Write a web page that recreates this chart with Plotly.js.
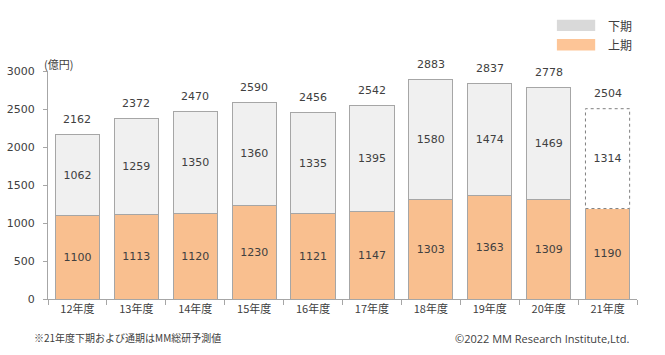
<!DOCTYPE html>
<html><head><meta charset="utf-8">
<script src="https://cdn.plot.ly/plotly-3.0.1.min.js"></script>
<style>html,body{margin:0;padding:0;background:#fff}#c{width:665px;height:355px}</style>
</head><body><div id="c"></div>
<script>
const categories = ['12年度','13年度','14年度','15年度','16年度','17年度','18年度','19年度','20年度','21年度'];
const firstHalf = [1100,1113,1120,1230,1121,1147,1303,1363,1309,1190];
const secondHalf = [1062,1259,1350,1360,1335,1395,1580,1474,1469,1314];
const totals = [2162,2372,2470,2590,2456,2542,2883,2837,2778,2504];
const forecastIndex = 9;

const FONT = '"DejaVu Sans", "Noto Sans CJK JP", sans-serif';
const JFONT = '"Noto Sans CJK JP", "DejaVu Sans", sans-serif';
const txt = '#404040';
const barW = 0.75;

const lowerTrace = {
  type:'bar', x:categories, y:firstHalf, name:'上期',
  width:barW,
  marker:{color:'#F9BF8F', line:{color:'#A6A6A6', width:1}},
  text:firstHalf.map(String), textposition:'inside', insidetextanchor:'middle',
  textfont:{family:FONT, size:11, color:txt}, hoverinfo:'skip', showlegend:false
};
const upperTrace = {
  type:'bar', x:categories, y:secondHalf, name:'下期',
  width:barW,
  marker:{color:secondHalf.map((v,i)=> i===forecastIndex ? '#FFFFFF' : '#F0F0F0'),
          line:{color:secondHalf.map((v,i)=> i===forecastIndex ? 'rgba(0,0,0,0)' : '#A6A6A6'), width:1}},
  text:secondHalf.map(String), textposition:'inside', insidetextanchor:'middle',
  textfont:{family:FONT, size:11, color:txt}, hoverinfo:'skip', showlegend:false
};

const shapes = [
  {type:'rect', xref:'x', yref:'y',
   x0:forecastIndex - barW/2, x1:forecastIndex + barW/2,
   y0:firstHalf[forecastIndex], y1:firstHalf[forecastIndex] + secondHalf[forecastIndex],
   line:{color:'#7F7F7F', width:1, dash:'dot'}, fillcolor:'rgba(0,0,0,0)'},
  {type:'rect', xref:'paper', yref:'paper', x0:0.864, x1:0.929, y0:1.175, y1:1.225,
   fillcolor:'#D9D9D9', line:{width:0}},
  {type:'rect', xref:'paper', yref:'paper', x0:0.864, x1:0.929, y0:1.09, y1:1.14,
   fillcolor:'#FDC597', line:{width:0}}
];

const totalAnnotations = categories.map((c,i)=>({
  xref:'x', yref:'y', x:c, y:totals[i], text:String(totals[i]), showarrow:false,
  yanchor:'middle', yshift:15, font:{family:FONT, size:11, color:txt}
}));

const annotations = totalAnnotations.concat([
  {xref:'paper', yref:'paper', x:0.947, y:1.2, text:'下期', showarrow:false, xanchor:'left', yanchor:'middle',
   font:{family:JFONT, size:12, color:txt}},
  {xref:'paper', yref:'paper', x:0.947, y:1.115, text:'上期', showarrow:false, xanchor:'left', yanchor:'middle',
   font:{family:JFONT, size:12, color:txt}},
  {xref:'paper', yref:'paper', x:-0.01, y:1.03, text:'(億円)', showarrow:false, xanchor:'left', yanchor:'middle',
   font:{family:JFONT, size:11, color:txt}},
  {xref:'paper', yref:'paper', x:-0.028, y:-0.17, text:'※21年度下期および通期はMM総研予測値', showarrow:false,
   xanchor:'left', yanchor:'middle', font:{family:JFONT, size:10, color:txt}},
  {xref:'paper', yref:'paper', x:0.99, y:-0.175, text:'©2022 MM Research Institute,Ltd.', showarrow:false,
   xanchor:'right', yanchor:'middle', font:{family:'"Open Sans", "DejaVu Sans", sans-serif', size:11, color:txt}}
]);

const layout = {
  width:665, height:355,
  margin:{l:48, r:28, t:71, b:56},
  barmode:'stack', bargap:0.25,
  paper_bgcolor:'#FFFFFF', plot_bgcolor:'#FFFFFF',
  showlegend:false,
  font:{family:FONT, color:txt},
  xaxis:{type:'category', showline:true, linecolor:'#A6A6A6', linewidth:1,
         ticks:'outside', tickson:'boundaries', ticklen:5, tickcolor:'#A6A6A6',
         tickfont:{family:JFONT, size:11, color:txt}, showgrid:false, zeroline:false},
  yaxis:{range:[0,3000], dtick:500, showline:true, linecolor:'#A6A6A6', linewidth:1,
         ticks:'outside', ticklen:4, tickcolor:'#A6A6A6', showgrid:false, zeroline:false,
         tickfont:{family:FONT, size:11, color:txt}, ticklabelstandoff:6},
  shapes:shapes, annotations:annotations
};

Plotly.newPlot('c', [lowerTrace, upperTrace], layout, {displayModeBar:false, staticPlot:true});
</script></body></html>
